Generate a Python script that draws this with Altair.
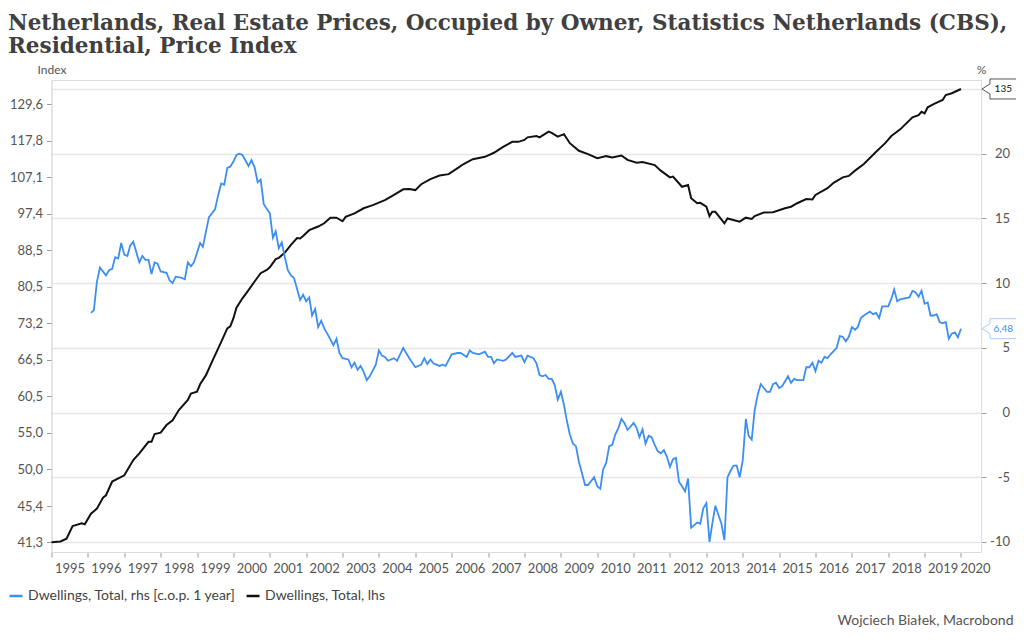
import altair as alt
import pandas as pd

# ---------------- data ----------------
black_dates = [
    "1995-01", "1995-04", "1995-06", "1995-08", "1995-11", "1995-12", "1996-02", "1996-04", "1996-06", "1996-07",
    "1996-09", "1997-01", "1997-04", "1997-06", "1997-09", "1997-10", "1997-11", "1998-01", "1998-03", "1998-05",
    "1998-07", "1998-10", "1998-11", "1999-01", "1999-02", "1999-04", "1999-06", "1999-09", "1999-11", "1999-12",
    "2000-01", "2000-02", "2000-04", "2000-06", "2000-08", "2000-10", "2000-12", "2001-01", "2001-03", "2001-04",
    "2001-06", "2001-08", "2001-10", "2001-11", "2001-12", "2002-02", "2002-05", "2002-07", "2002-09", "2002-11",
    "2003-01", "2003-02", "2003-05", "2003-08", "2003-11", "2004-03", "2004-06", "2004-09", "2004-11", "2005-01",
    "2005-03", "2005-06", "2005-09", "2005-12", "2006-03", "2006-05", "2006-08", "2006-12", "2007-03", "2007-06",
    "2007-09", "2007-11", "2008-01", "2008-02", "2008-05", "2008-06", "2008-09", "2008-10", "2008-12", "2009-02",
    "2009-04", "2009-07", "2009-10", "2010-01", "2010-02", "2010-04", "2010-06", "2010-09", "2010-11", "2011-02",
    "2011-04", "2011-08", "2011-10", "2012-01", "2012-02", "2012-05", "2012-07", "2012-08", "2012-10", "2012-11",
    "2013-01", "2013-02", "2013-03", "2013-04", "2013-07", "2013-08", "2013-12", "2014-02", "2014-04", "2014-05",
    "2014-08", "2014-11", "2015-03", "2015-05", "2015-07", "2015-10", "2015-12", "2016-01", "2016-05", "2016-07",
    "2016-10", "2016-12", "2017-02", "2017-05", "2017-09", "2017-12", "2018-02", "2018-05", "2018-09", "2018-11",
    "2018-12", "2019-01", "2019-02", "2019-04", "2019-07", "2019-08", "2019-10", "2020-01",
]
black_values = [
    41.3, 41.4, 41.7, 43.1, 43.4, 43.3, 44.5, 45.1, 46.4, 46.7,
    48.4, 49.2, 51.2, 52.1, 53.7, 53.7, 54.8, 55.0, 56.1, 56.8,
    58.3, 59.9, 60.9, 61.2, 62.4, 63.9, 66.2, 69.7, 72.2, 72.6,
    74.1, 76.2, 78.1, 79.8, 81.6, 83.4, 84.1, 84.7, 86.5, 86.8,
    88.0, 89.8, 91.4, 91.3, 91.9, 93.3, 94.2, 95.0, 96.4, 96.4,
    95.5, 96.6, 97.5, 98.8, 99.6, 100.9, 102.3, 103.8, 103.9, 103.6,
    105.2, 106.6, 107.6, 108.0, 109.7, 110.9, 112.3, 113.0, 114.2, 116.0,
    117.5, 117.5, 118.1, 118.9, 119.3, 118.9, 120.7, 120.3, 119.1, 119.9,
    117.1, 114.8, 113.8, 112.6, 112.8, 113.2, 112.8, 113.4, 112.1, 111.3,
    111.5, 110.6, 109.0, 107.1, 107.3, 104.5, 105.0, 101.4, 100.1, 100.2,
    99.2, 96.8, 97.9, 97.9, 95.0, 96.2, 95.4, 96.4, 96.1, 96.8,
    97.7, 97.8, 98.8, 99.2, 100.1, 101.2, 101.1, 102.3, 104.1, 105.6,
    107.1, 107.5, 109.0, 110.9, 114.5, 117.1, 119.3, 121.4, 125.3, 126.0,
    127.1, 126.6, 128.6, 129.7, 131.1, 132.8, 133.4, 134.9,
]

blue_dates = [
    "1996-02", "1996-03", "1996-04", "1996-05", "1996-07", "1996-08", "1996-09", "1996-10", "1996-11", "1996-12",
    "1997-01", "1997-02", "1997-03", "1997-04", "1997-05", "1997-06", "1997-07", "1997-08", "1997-09", "1997-10",
    "1997-11", "1997-12", "1998-01", "1998-03", "1998-04", "1998-05", "1998-06", "1998-08", "1998-09", "1998-10",
    "1998-11", "1998-12", "1999-02", "1999-03", "1999-04", "1999-05", "1999-07", "1999-08", "1999-09", "1999-10",
    "1999-11", "1999-12", "2000-01", "2000-02", "2000-03", "2000-04", "2000-06", "2000-07", "2000-08", "2000-09",
    "2000-10", "2000-11", "2001-01", "2001-02", "2001-03", "2001-04", "2001-05", "2001-06", "2001-07", "2001-08",
    "2001-09", "2001-11", "2001-12", "2002-01", "2002-02", "2002-03", "2002-04", "2002-05", "2002-06", "2002-07",
    "2002-08", "2002-10", "2002-11", "2002-12", "2003-01", "2003-03", "2003-04", "2003-05", "2003-06", "2003-07",
    "2003-08", "2003-09", "2003-10", "2003-12", "2004-01", "2004-02", "2004-03", "2004-04", "2004-05", "2004-06",
    "2004-07", "2004-09", "2004-10", "2004-11", "2005-01", "2005-02", "2005-03", "2005-04", "2005-05", "2005-06",
    "2005-07", "2005-09", "2005-10", "2005-11", "2006-01", "2006-03", "2006-04", "2006-06", "2006-07", "2006-08",
    "2006-10", "2006-12", "2007-01", "2007-02", "2007-03", "2007-04", "2007-06", "2007-07", "2007-09", "2007-10",
    "2007-12", "2008-01", "2008-02", "2008-04", "2008-05", "2008-06", "2008-07", "2008-08", "2008-09", "2008-10",
    "2008-11", "2008-12", "2009-01", "2009-02", "2009-03", "2009-04", "2009-05", "2009-06", "2009-07", "2009-08",
    "2009-09", "2009-10", "2009-12", "2010-01", "2010-02", "2010-03", "2010-04", "2010-05", "2010-06", "2010-07",
    "2010-08", "2010-09", "2010-10", "2010-11", "2010-12", "2011-01", "2011-02", "2011-03", "2011-04", "2011-05",
    "2011-06", "2011-07", "2011-08", "2011-09", "2011-10", "2011-11", "2011-12", "2012-01", "2012-02", "2012-03",
    "2012-04", "2012-05", "2012-06", "2012-07", "2012-08", "2012-09", "2012-10", "2012-11", "2012-12", "2013-01",
    "2013-02", "2013-03", "2013-04", "2013-05", "2013-06", "2013-07", "2013-08", "2013-09", "2013-10", "2013-11",
    "2013-12", "2014-01", "2014-02", "2014-03", "2014-04", "2014-05", "2014-06", "2014-07", "2014-08", "2014-09",
    "2014-10", "2014-11", "2014-12", "2015-01", "2015-02", "2015-03", "2015-04", "2015-05", "2015-06", "2015-07",
    "2015-09", "2015-10", "2015-11", "2015-12", "2016-01", "2016-02", "2016-03", "2016-04", "2016-05", "2016-06",
    "2016-08", "2016-09", "2016-10", "2016-11", "2016-12", "2017-01", "2017-02", "2017-03", "2017-04", "2017-05",
    "2017-07", "2017-08", "2017-09", "2017-10", "2017-11", "2018-01", "2018-02", "2018-03", "2018-04", "2018-05",
    "2018-06", "2018-08", "2018-09", "2018-10", "2018-11", "2018-12", "2019-01", "2019-02", "2019-03", "2019-04",
    "2019-05", "2019-06", "2019-07", "2019-08", "2019-09", "2019-10", "2019-11", "2019-12", "2020-01",
]
blue_values = [
    7.7, 7.9, 10.1, 11.2, 10.6, 11.0, 11.1, 12.0, 11.9, 13.1,
    12.2, 12.1, 12.9, 13.2, 12.4, 11.6, 12.1, 11.8, 11.8, 10.7,
    11.6, 11.5, 10.9, 10.8, 10.2, 10.0, 10.5, 10.4, 10.3, 11.6,
    11.3, 11.6, 13.1, 12.8, 14.0, 15.1, 15.7, 16.8, 17.7, 17.6,
    18.9, 19.0, 19.4, 19.9, 20.0, 19.9, 19.05, 19.5, 18.95, 17.8,
    18.0, 16.1, 15.4, 13.5, 14.0, 12.7, 13.15, 12.0, 11.0, 10.6,
    10.4, 8.7, 9.1, 8.6, 8.9, 7.5, 8.0, 6.6, 7.1, 6.5,
    6.1, 5.2, 5.7, 4.6, 4.2, 4.1, 3.5, 3.85, 3.3, 3.6,
    3.15, 2.5, 2.8, 3.7, 4.8, 4.4, 4.3, 4.0, 4.1, 4.2,
    4.0, 5.0, 4.6, 4.2, 3.5, 3.6, 3.7, 4.2, 3.75, 4.1,
    3.8, 3.6, 3.7, 3.6, 4.5, 4.6, 4.6, 4.3, 4.8, 4.6,
    4.5, 4.7, 4.3, 4.3, 3.8, 4.1, 4.0, 4.1, 4.6, 4.3,
    4.4, 3.9, 4.4, 4.2, 3.8, 2.9, 2.8, 2.9, 2.6, 2.6,
    2.1, 1.0, 1.6, 0.6, -0.6, -1.7, -2.4, -2.6, -3.8, -4.7,
    -5.6, -5.6, -5.0, -5.7, -5.9, -4.4, -3.9, -2.6, -2.5, -1.7,
    -1.2, -0.5, -0.8, -1.35, -1.1, -0.8, -1.2, -1.9, -1.3, -2.4,
    -1.8, -1.9, -2.5, -3.0, -3.15, -2.9, -3.4, -4.2, -3.6, -3.5,
    -5.35, -5.7, -6.1, -5.1, -8.9, -8.7, -8.5, -8.6, -7.4, -7.0,
    -10.0, -8.6, -7.2, -7.9, -8.6, -9.85, -5.0, -4.5, -4.1, -4.1,
    -5.0, -3.7, -0.5, -1.8, -2.1, 0.2, 1.4, 2.2, 1.9, 1.6,
    1.6, 2.2, 2.3, 1.9, 2.05, 2.4, 2.8, 2.3, 2.6, 2.5,
    2.5, 3.5, 3.5, 3.85, 3.2, 4.0, 3.85, 4.3, 4.2, 4.5,
    5.0, 5.9, 5.85, 5.5, 5.85, 6.6, 6.4, 6.6, 7.3, 7.5,
    7.8, 7.6, 7.7, 7.3, 8.2, 8.2, 8.8, 9.5, 8.6, 8.75,
    8.8, 8.9, 9.4, 9.3, 8.95, 9.4, 8.4, 8.5, 7.5, 7.5,
    7.6, 7.0, 6.9, 7.0, 5.7, 6.1, 6.2, 5.8, 6.48,
]

left_ticks = [41.3, 45.4, 50.0, 55.0, 60.5, 66.5, 73.2, 80.5, 88.5, 97.4, 107.1, 117.8, 129.6]
right_ticks = [-10, -5, 0, 5, 10, 15, 20, 25]
year_ticks = list(range(1995, 2021))

NAME_BLUE = "Dwellings, Total, rhs [c.o.p. 1 year]"
NAME_BLACK = "Dwellings, Total, lhs"
TITLE = ["Netherlands, Real Estate Prices, Occupied by Owner, Statistics Netherlands (CBS),",
         "Residential, Price Index"]
CREDIT = "Wojciech Białek, Macrobond"

# ---------------- styling ----------------
BLUE = "#3c8ef0"
BLACK = "#111111"
FONT = "Lato"
LABEL_COLOR = "#555555"
W, H = 929.5, 472

df_black = pd.DataFrame({"date": [d + "-01" for d in black_dates], "value": black_values, "series": NAME_BLACK})
df_blue = pd.DataFrame({"date": [d + "-01" for d in blue_dates], "value": blue_values, "series": NAME_BLUE})
df_black_last = df_black.tail(1)
df_blue_last = df_blue.tail(1)
df_credit = pd.DataFrame({"t": [CREDIT]})

BOX = "M-1,0 L-0.543,-0.286 L-0.543,-0.571 L1,-0.571 L1,0.571 L-0.543,0.571 L-0.543,0.286 Z"

x_enc = alt.X(
    "date:T", title=None,
    scale=alt.Scale(domain=[alt.DateTime(year=1995, month=1, date=1),
                            alt.DateTime(year=2020, month=7, date=20)], nice=False),
    axis=alt.Axis(
        values=[alt.DateTime(year=y, month=1, date=1) for y in year_ticks],
        format="%Y", labelFlush=False, labelOverlap=False, grid=False,
        labelOffset={"condition": {"test": "year(datum.value) == 2020", "value": 14}, "value": 18},
        domainColor="#dcdcdc", tickColor="#9a9a9a", tickSize=5, labelPadding=5,
        labelFont=FONT, labelFontSize=13, labelColor=LABEL_COLOR,
    ),
)

color_enc = alt.Color(
    "series:N",
    scale=alt.Scale(domain=[NAME_BLUE, NAME_BLACK], range=[BLUE, BLACK]),
    legend=alt.Legend(
        title=None, orient="none", legendX=-43.5, legendY=508, direction="horizontal",
        symbolType="stroke", symbolSize=169, symbolStrokeWidth=2.5, labelOffset=4,
        columnPadding=5, padding=0, labelFont=FONT, labelFontSize=14, labelColor="#444444",
        labelLimit=500,
    ),
)

y_left = alt.Y(
    "value:Q", title="Index",
    scale=alt.Scale(type="log", domain=[40.27, 138.1], nice=False),
    axis=alt.Axis(
        orient="left", values=left_ticks, grid=False, labelOverlap=False,
        labelExpr="replace(format(datum.value, '.1f'), '.', ',')",
        domainColor="#dcdcdc", tickColor="#9a9a9a", tickSize=5, labelPadding=4,
        labelFont=FONT, labelFontSize=13, labelColor=LABEL_COLOR,
        titleAngle=0, titleAlign="center", titleBaseline="alphabetic", titleX=0, titleY=-7,
        titleFont=FONT, titleFontSize=12, titleFontWeight="normal", titleColor=LABEL_COLOR,
    ),
)

y_right = alt.Y(
    "value:Q", title="%",
    scale=alt.Scale(domain=[-10.78, 25.7], nice=False, zero=False),
    axis=alt.Axis(
        orient="right", values=right_ticks, grid=True, gridColor="#e6e6e6", gridWidth=1.6,
        labelOverlap=False, labelExpr="datum.value == 25 ? '' : '' + datum.value",
        labelAlign="right", domainColor="#dcdcdc", tickColor="#9a9a9a", tickSize=5, labelPadding=23.5,
        labelFont=FONT, labelFontSize=13, labelColor=LABEL_COLOR,
        titleAngle=0, titleAlign="center", titleBaseline="alphabetic", titleX=0, titleY=-7,
        titleFont=FONT, titleFontSize=12, titleFontWeight="normal", titleColor=LABEL_COLOR,
    ),
)

black_line = alt.Chart(df_black).mark_line(strokeWidth=2).encode(x=x_enc, y=y_left, color=color_enc)
black_box = alt.Chart(df_black_last).mark_point(
    shape=BOX, size=1225, filled=True, fill="white", stroke="#555555", strokeWidth=1, opacity=1
).encode(x=alt.value(948), y=y_left)
black_txt = alt.Chart(df_black_last).mark_text(
    font=FONT, fontSize=10, color="#111111", align="center", baseline="middle"
).encode(x=alt.value(951.8), y=y_left, text=alt.Text("value:Q", format=".0f"))
credit = alt.Chart(df_credit).mark_text(
    font=FONT, fontSize=14, color=LABEL_COLOR, align="right", baseline="alphabetic"
).encode(x=alt.value(962), y=alt.value(545), text="t:N")

blue_line = alt.Chart(df_blue).mark_line(strokeWidth=1.8).encode(x=x_enc, y=y_right, color=color_enc)
blue_box = alt.Chart(df_blue_last).mark_point(
    shape=BOX, size=1225, filled=True, fill="white", stroke="#a9cdf6", strokeWidth=1, opacity=1
).encode(x=alt.value(948), y=y_right)
blue_txt = alt.Chart(df_blue_last).transform_calculate(
    lab="replace(format(datum.value, '.2f'), '.', ',')"
).mark_text(
    font=FONT, fontSize=10, color=BLUE, align="center", baseline="middle"
).encode(x=alt.value(951.8), y=y_right, text="lab:N")

left = alt.layer(black_line, black_box, black_txt, credit)
right = alt.layer(blue_line, blue_box, blue_txt)

chart = alt.layer(left, right).resolve_scale(y="independent").properties(
    width=W, height=H,
    autosize="none",
    padding={"left": 43.5, "top": 72, "right": 35, "bottom": 80},
    title=alt.TitleParams(
        text=TITLE, anchor="start", frame="group", font="DejaVu Serif", fontSize=21.5,
        fontWeight="bold", color="#404040", lineHeight=23, offset=6, dx=-43.5,
    ),
).configure_view(stroke=None).configure(background="white")

chart.save("out.html", embed_options={"renderer": "svg", "actions": False})
